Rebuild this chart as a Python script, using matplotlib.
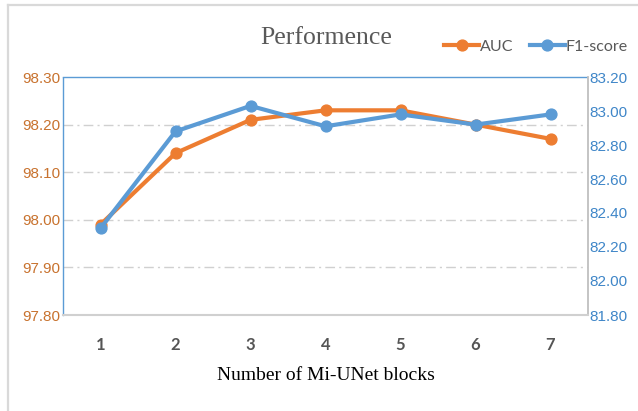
import matplotlib.pyplot as plt
from matplotlib.lines import Line2D

# data
blocks = [1, 2, 3, 4, 5, 6, 7]
auc = [97.99, 98.14, 98.21, 98.23, 98.23, 98.20, 98.17]
f1 = [82.31, 82.88, 83.03, 82.91, 82.98, 82.92, 82.98]
auc_ticks = [97.80, 97.90, 98.00, 98.10, 98.20, 98.30]
f1_ticks = [81.80, 82.00, 82.20, 82.40, 82.60, 82.80, 83.00, 83.20]

orange = "#ED7D31"
blue = "#5B9BD5"
gray_txt = "#595959"

fig = plt.figure(figsize=(6.38, 4.11), dpi=100)
ax = fig.add_axes([63 / 638, 1 - 315 / 411, 525 / 638, 238 / 411])
ax2 = ax.twinx()

# outer chart border (top and left visible)
fig.add_artist(Line2D([8 / 638, 1], [1 - 5 / 411, 1 - 5 / 411], color="#d9d9d9", lw=1.6))
fig.add_artist(Line2D([8 / 638, 8 / 638], [0, 1 - 5 / 411], color="#d9d9d9", lw=1.6))

# gridlines at interior ticks
for v in auc_ticks[1:-1]:
    ax.axhline(v, color="#d0d0d0", lw=1.0, dashes=(7, 3, 1.5, 3), zorder=0)

ax.plot(blocks, auc, color=orange, lw=3.0, marker="o", ms=7.8, label="AUC", zorder=3)
ax2.plot(blocks, f1, color=blue, lw=3.0, marker="o", ms=7.8, label="F1-score", zorder=3)

ax.set_xlim(0.5, 7.5)
ax.set_ylim(auc_ticks[0], auc_ticks[-1])
ax2.set_ylim(f1_ticks[0], f1_ticks[-1])
ax.set_xticks(blocks)
ax.set_xticklabels([str(b) for b in blocks], fontfamily="Lato", fontweight="bold",
                   fontsize=12, color="#555555")
ax.set_yticks(auc_ticks)
ax.set_yticklabels(["%.2f" % v for v in auc_ticks], fontfamily="Liberation Sans",
                   fontsize=11, color="#C8722E")
ax2.set_yticks(f1_ticks)
ax2.set_yticklabels(["%.2f" % v for v in f1_ticks], fontfamily="Liberation Sans",
                    fontsize=11, color="#3F86C8")
ax.tick_params(axis="both", length=0)
ax.tick_params(axis="x", pad=16)
ax.tick_params(axis="y", pad=2)
ax2.tick_params(axis="y", length=0, pad=1)

for a in (ax, ax2):
    for s in a.spines.values():
        s.set_visible(False)
ax.spines["left"].set_visible(True)
ax.spines["left"].set_color(blue)
ax.spines["left"].set_linestyle((0, (1, 1)))
ax.spines["left"].set_linewidth(1.0)
ax.spines["top"].set_visible(True)
ax.spines["top"].set_color(blue)
ax.spines["top"].set_linestyle((0, (1, 1)))
ax.spines["top"].set_linewidth(1.0)
ax2.spines["right"].set_visible(True)
ax2.spines["right"].set_color("#bfbfbf")
ax2.spines["right"].set_linewidth(1.3)
ax2.spines["bottom"].set_visible(True)
ax2.spines["bottom"].set_color("#d0d0d0")
ax2.spines["bottom"].set_linewidth(1.5)

ax.set_xlabel("Number of Mi-UNet blocks", fontfamily="Liberation Serif", fontsize=14,
              color="black", labelpad=10)
fig.text(326 / 638, 1 - 38 / 411, "Performence", fontfamily="Liberation Serif",
         fontsize=18.5, color=gray_txt, ha="center", va="center")

h1, l1 = ax.get_legend_handles_labels()
h2, l2 = ax2.get_legend_handles_labels()
leg = fig.legend(h1 + h2, l1 + l2, loc="center", bbox_to_anchor=(536 / 638, 1 - 47 / 411),
                 ncol=2, frameon=False, handlelength=2.2, handletextpad=0.05,
                 columnspacing=1.0, borderpad=0, prop={"family": "Lato", "size": 11.5})
for t in leg.get_texts():
    t.set_color(gray_txt)

plt.savefig("out.png", dpi=100)
